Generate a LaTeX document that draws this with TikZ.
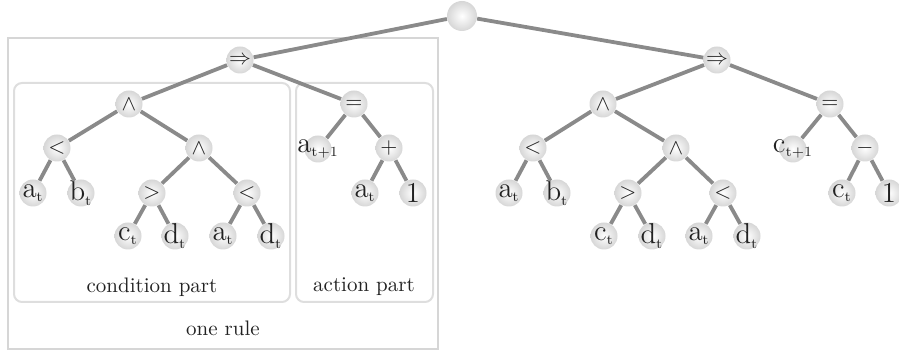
\documentclass[tikz,border=0pt]{standalone}
\usetikzlibrary{shadings}
\definecolor{edgec}{HTML}{8A8A8A}
\definecolor{boxc}{HTML}{D6D6D6}
\definecolor{txtc}{HTML}{222222}
\begin{document}
\begin{tikzpicture}[x=0.5pt,y=-0.5pt,
  nd/.style={circle,minimum size=13.5pt,inner sep=0pt,shading=radial,inner color=white,outer color=black!16,text=txtc},
  op/.style={nd,font=\fontsize{11}{12}\selectfont},
  lf/.style={nd,font=\fontsize{14}{15}\selectfont},
  rootnd/.style={nd,minimum size=15pt},
  ed/.style={draw=edgec,line width=1.9pt},
  bigbox/.style={draw=boxc,line width=1pt},
  partbox/.style={draw=boxc!80,line width=1pt,rounded corners=4pt},
  lab/.style={text=txtc,font=\fontsize{10.5}{12}\selectfont}]
\useasboundingbox (0,0) rectangle (899,351);
\newcommand{\st}[2]{\makebox[0pt]{$\mathrm{#1}_{\scriptscriptstyle\mathrm{#2}}$}}
% boxes
\draw[bigbox] (8,38) rectangle (438,349);
\draw[partbox] (14,83) rectangle (290,302);
\draw[partbox] (296,83) rectangle (433,302);
\node[lab] (lcond) at (152,287) {condition part};
\node[lab] (lact) at (364,287) {action part};
\node[lab] (lrule) at (223,328) {one rule};
% nodes left tree
\node[rootnd] (root) at (462,16) {};
\node[op] (Limp) at (240,60) {$\Rightarrow$};
\node[op] (Land) at (129,104) {$\wedge$};
\node[op] (Leq) at (354,104) {$=$};
\node[op] (Llt) at (57,148) {$<$};
\node[op] (Land2) at (199,148) {$\wedge$};
\node[lf] (Lat1) at (318,149) {\st{a}{t+1}};
\node[op] (Lplus) at (389,148) {$+$};
\node[lf] (La) at (33,193) {\st{a}{t}};
\node[lf] (Lb) at (81,193) {\st{b}{t}};
\node[op] (Lgt) at (152,193) {$>$};
\node[op] (Llt2) at (247,193) {$<$};
\node[lf] (La2) at (365,193) {\st{a}{t}};
\node[lf] (Lone) at (413,193) {$1$};
\node[lf] (Lc) at (128,236) {\st{c}{t}};
\node[lf] (Ld) at (175,236) {\st{d}{t}};
\node[lf] (La3) at (223,236) {\st{a}{t}};
\node[lf] (Ld2) at (271,236) {\st{d}{t}};
% nodes right tree
\node[op] (Rimp) at (717,60) {$\Rightarrow$};
\node[op] (Rand) at (603,104) {$\wedge$};
\node[op] (Req) at (830,104) {$=$};
\node[op] (Rlt) at (533,148) {$<$};
\node[op] (Rand2) at (676,148) {$\wedge$};
\node[lf] (Rct1) at (793,149) {\st{c}{t+1}};
\node[op] (Rminus) at (865,148) {$-$};
\node[lf] (Ra) at (509,193) {\st{a}{t}};
\node[lf] (Rb) at (557,193) {\st{b}{t}};
\node[op] (Rgt) at (628,193) {$>$};
\node[op] (Rlt2) at (723,193) {$<$};
\node[lf] (Rc2) at (842,193) {\st{c}{t}};
\node[lf] (Rone) at (889,193) {$1$};
\node[lf] (Rc) at (604,236) {\st{c}{t}};
\node[lf] (Rd) at (652,236) {\st{d}{t}};
\node[lf] (Ra3) at (699,236) {\st{a}{t}};
\node[lf] (Rd2) at (747,236) {\st{d}{t}};
% edges
\foreach \a/\b in {root/Limp,root/Rimp,
  Limp/Land,Limp/Leq,Land/Llt,Land/Land2,Leq/Lat1,Leq/Lplus,Llt/La,Llt/Lb,Land2/Lgt,Land2/Llt2,Lplus/La2,Lplus/Lone,Lgt/Lc,Lgt/Ld,Llt2/La3,Llt2/Ld2,
  Rimp/Rand,Rimp/Req,Rand/Rlt,Rand/Rand2,Req/Rct1,Req/Rminus,Rlt/Ra,Rlt/Rb,Rand2/Rgt,Rand2/Rlt2,Rminus/Rc2,Rminus/Rone,Rgt/Rc,Rgt/Rd,Rlt2/Ra3,Rlt2/Rd2}
  \draw[ed] (\a) -- (\b);
\end{tikzpicture}
\end{document}
